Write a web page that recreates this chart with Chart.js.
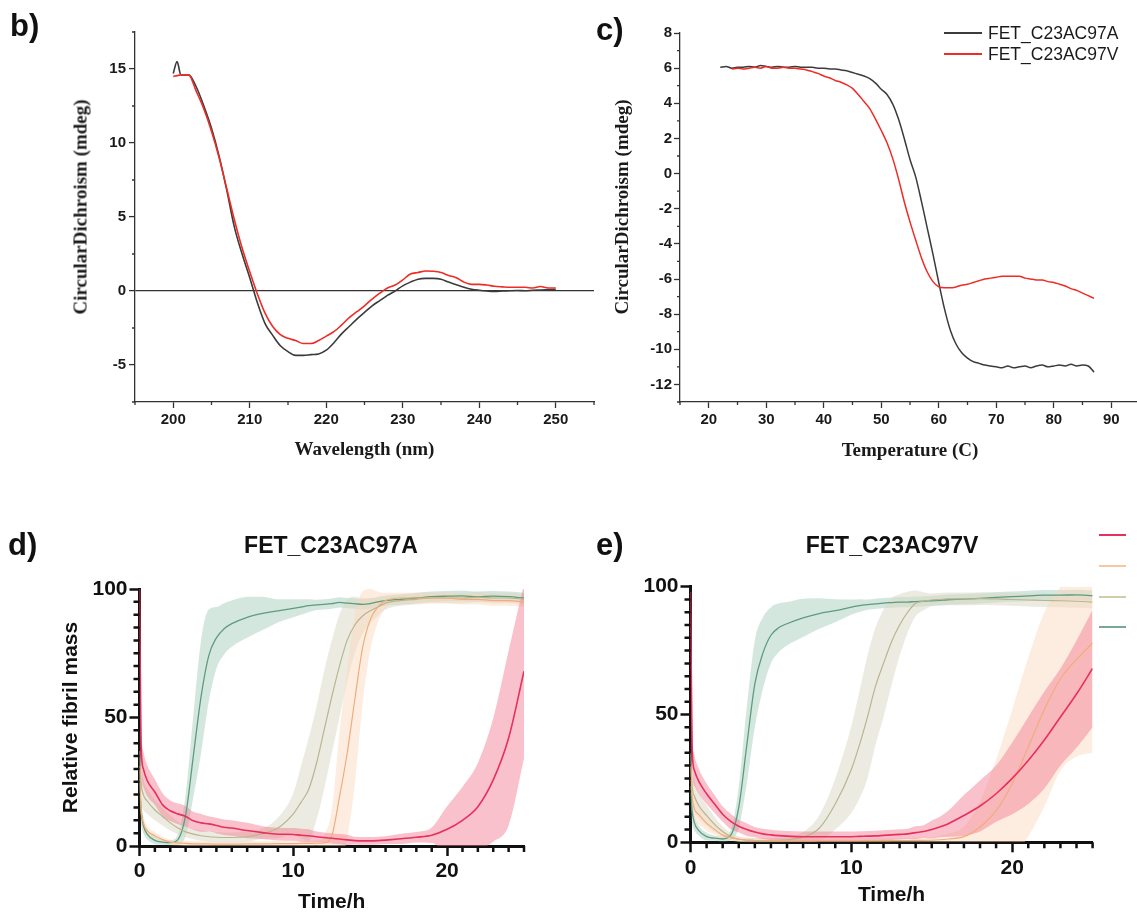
<!DOCTYPE html>
<html>
<head>
<meta charset="utf-8">
<script src="https://cdn.jsdelivr.net/npm/chart.js@4.4.1/dist/chart.umd.min.js"></script>
<style>
  html, body { margin: 0; padding: 0; background: #fff; overflow: hidden; }
  body { width: 1137px; height: 913px; position: relative; font-family: "Liberation Sans", Arial, sans-serif; color: #111; }
  canvas { position: absolute; }
  .tag { position: absolute; font-weight: bold; font-size: 31px; line-height: 1; }
  .ptitle { position: absolute; font-weight: bold; font-size: 23px; line-height: 1; transform: translate(-50%, -50%); white-space: nowrap; }
  .ytitle { position: absolute; font-family: "Liberation Serif", serif; font-weight: bold; font-size: 19px; line-height: 1;
            color: #1a1a1a; white-space: nowrap; transform: translate(-50%, -50%) rotate(-90deg); }
  .legline { position: absolute; height: 2px; }
  .legtext { position: absolute; font-size: 17.5px; line-height: 20px; white-space: nowrap; color: #1a1a1a; }
</style>
</head>
<body>

<canvas id="chartB" width="600" height="470" style="left:0; top:0;"></canvas>
<canvas id="chartC" width="570" height="470" style="left:570px; top:0;"></canvas>
<canvas id="chartD" width="570" height="413" style="left:0; top:500px;"></canvas>
<canvas id="chartE" width="567" height="413" style="left:570px; top:500px;"></canvas>

<div class="tag" style="left:10px; top:10px;">b)</div>
<div class="tag" style="left:596px; top:14px;">c)</div>
<div class="tag" style="left:8px; top:529px;">d)</div>
<div class="tag" style="left:596px; top:529px;">e)</div>

<div class="ytitle" style="left:80px; top:207px;">CircularDichroism (mdeg)</div>
<div class="ytitle" style="left:621px; top:207px;">CircularDichroism (mdeg)</div>

<div class="ptitle" style="left:331px; top:545px;">FET_C23AC97A</div>
<div class="ptitle" style="left:892px; top:545px;">FET_C23AC97V</div>

<!-- Legend of panel c -->
<div class="legline" style="left:944px; top:32px; width:38px; background:#3b3b3b;"></div>
<div class="legtext" style="left:988px; top:23px;">FET_C23AC97A</div>
<div class="legline" style="left:944px; top:53px; width:38px; background:#ee2b25;"></div>
<div class="legtext" style="left:988px; top:44px;">FET_C23AC97V</div>

<!-- Legend of panel e (text is cut off in the figure) -->
<div class="legline" style="left:1099px; top:534px; width:27px; background:#e8305c;"></div>
<div class="legline" style="left:1099px; top:565px; width:27px; background:#f3c9a4;"></div>
<div class="legline" style="left:1099px; top:596px; width:27px; background:#cfcdaa;"></div>
<div class="legline" style="left:1099px; top:626px; width:27px; background:#7aa896;"></div>

<script>
// ---- Panel b: CD spectra ----
const wavelength = [200, 200.5, 201, 202, 203, 204, 205, 206, 207, 208, 209, 210, 211, 212, 213, 214, 215, 216, 217, 218, 219, 220,
  221, 222, 223, 224, 225, 226, 227, 228, 229, 230, 231, 232, 233, 234, 235, 236, 237, 238, 239, 240,
  241, 242, 243, 244, 245, 246, 247, 248, 249, 250];
const spectrumA = [14.7, 15.5, 14.6, 14.6, 13.8, 12.5, 11.0, 9.1, 6.8, 4.3, 2.5, 0.9, -0.8, -2.2, -3.0, -3.7, -4.1, -4.35, -4.35, -4.3, -4.25, -4.0,
  -3.5, -2.9, -2.4, -1.9, -1.45, -1.0, -0.65, -0.3, 0.0, 0.35, 0.6, 0.8, 0.85, 0.85, 0.8, 0.6, 0.42, 0.25, 0.12, 0.05,
  0.0, -0.03, 0.0, 0.02, 0.03, 0.02, 0.05, 0.06, 0.08, 0.1];
const spectrumV = [14.5, 14.55, 14.6, 14.6, 13.5, 12.3, 10.8, 9.0, 6.9, 4.8, 2.9, 1.3, -0.2, -1.5, -2.4, -2.95, -3.2, -3.35, -3.55, -3.55, -3.35, -3.05,
  -2.75, -2.3, -1.8, -1.4, -1.0, -0.55, -0.15, 0.2, 0.4, 0.75, 1.15, 1.25, 1.35, 1.33, 1.25, 1.05, 0.9, 0.6, 0.45, 0.45,
  0.4, 0.32, 0.28, 0.25, 0.25, 0.25, 0.2, 0.3, 0.2, 0.2];
const wavelengthTicks = [200, 210, 220, 230, 240, 250];
const spectrumTicks = [-5, 0, 5, 10, 15];

// ---- Panel c: thermal melt ----
const temperature = [22, 23, 24, 25, 26, 27, 28, 29, 30, 31, 32, 33, 34, 35, 36, 37, 38, 39, 40, 41, 42, 43, 44, 45, 46, 47, 48, 49, 50,
  51, 52, 53, 54, 55, 56, 57, 58, 59, 60, 61, 62, 63, 64, 65, 66, 67, 68, 69, 70, 71, 72, 73, 74, 75, 76, 77, 78, 79, 80,
  81, 82, 83, 84, 85, 86, 87];
const meltA = [6.05, 6.1, 6.0, 6.05, 6.05, 6.1, 6.05, 6.15, 6.1, 6.05, 6.1, 6.05, 6.05, 6.1, 6.05, 6.05, 6.05, 6.0, 6.0, 5.95, 5.95, 5.9, 5.85, 5.75, 5.65, 5.55, 5.4, 5.15, 4.8,
  4.5, 3.95, 3.1, 2.0, 0.8, -0.2, -1.6, -3.1, -4.6, -6.2, -7.7, -8.9, -9.7, -10.2, -10.5, -10.7, -10.8, -10.9, -10.95, -11.0, -11.05, -10.95, -11.05, -11.0, -10.95, -11.05, -10.95, -10.9, -11.0, -10.95,
  -10.9, -10.95, -10.85, -10.95, -10.9, -10.95, -11.3];
const meltV = [null, null, 5.95, 6.0, 5.95, 6.0, 6.05, 6.0, 6.1, 6.0, 6.0, 6.05, 6.0, 6.0, 5.95, 5.9, 5.8, 5.7, 5.55, 5.45, 5.3, 5.2, 5.05, 4.85, 4.5, 4.1, 3.7, 3.1, 2.45,
  1.75, 0.85, -0.3, -1.6, -2.75, -3.8, -4.8, -5.6, -6.15, -6.45, -6.5, -6.5, -6.45, -6.35, -6.3, -6.2, -6.1, -6.0, -5.95, -5.9, -5.85, -5.85, -5.85, -5.85, -5.95, -6.0, -6.05, -6.05, -6.15, -6.2,
  -6.3, -6.4, -6.55, -6.65, -6.8, -6.95, -7.1];
const temperatureTicks = [20, 30, 40, 50, 60, 70, 80, 90];
const meltTicks = [-12, -10, -8, -6, -4, -2, 0, 2, 4, 6, 8];

// ---- Panels d / e: aggregation kinetics (mean and SD) ----
const hours = [0, 0.1, 0.25, 0.5, 1, 1.5, 2, 2.5, 3, 3.5, 4, 4.5, 5, 5.5, 6, 7, 8, 9, 10, 10.5, 11, 11.5, 12, 12.5, 13, 13.5, 14, 14.5, 15, 15.5, 16,
  17, 18, 19, 20, 21, 22, 23, 24, 25];

const tealA = [26, 14, 8, 4.6, 2.2, 1.5, 1.3, 2.5, 12, 35, 58, 74, 81, 84.5, 86.5, 89, 90.5, 91.5, 92.5, 93, 93.5, 93.8, 94, 94.3, 94.8, 94.5, 94.3, 94, 94.3, 95, 95.5,
  96, 96.5, 97, 97.2, 97.3, 97, 97.2, 97, 96.5];
const tealSdA = [8, 5, 3, 2, 1.5, 1, 1, 2, 8, 16, 22, 18, 12, 10, 9, 8, 6.5, 4.5, 3.5, 3, 2.5, 2, 2, 2, 2, 2, 2, 2, 2, 2, 2,
  2, 2, 2, 2, 2, 2, 2, 2, 2];
const khakiA = [37, 25, 20, 17.5, 14, 11.5, 9, 7, 5.5, 4.6, 4, 3.6, 3.4, 3.3, 3.3, 3.6, 4.8, 7, 12.5, 17, 22, 32, 45, 58, 70, 80, 86, 89.5, 91.5, 93, 94.5,
  95.5, 96, 96.5, 96.5, 96.5, 96.8, 96.5, 96.5, 96];
const khakiSdA = [10, 8, 6, 5, 4, 3.5, 3, 2.5, 2, 2, 2, 2, 2, 2, 2, 2, 2, 4, 8, 14, 20, 22, 23, 22, 20, 16, 11, 7, 5, 3.5, 2.5,
  2, 2, 2, 2, 2, 2, 2, 2, 2];
const peachA = [31, 15, 9, 6, 4, 2.5, 1.5, 1.2, 1, 0.8, 0.8, 0.8, 0.7, 0.7, 0.7, 0.8, 0.8, 0.9, 0.9, 1, 1, 1.1, 1.2, 4, 19, 36, 57, 77, 88, 93, 95.5,
  96.5, 96.5, 96.5, 96.5, 96, 96, 95.5, 95.5, 95];
const peachSdA = [6, 4, 3, 2, 1.5, 1, 1, 1, 1, 1, 1, 1, 1, 1, 1, 1, 1, 1, 1, 1, 1, 1, 3, 10, 25, 33, 33, 22, 12, 6, 3,
  2, 2, 2, 2, 2, 2, 2, 2, 2];
const redA = [100, 40, 30, 25.5, 21, 16, 13.7, 12.5, 11.5, 9.8, 9, 8.6, 8, 7.3, 7, 6, 5.2, 4.6, 4.5, 4.2, 4, 3.6, 3.3, 3, 2.7, 2.4, 2.1, 2, 2, 2.1, 2.3,
  2.8, 3.4, 4.2, 6.5, 10, 15.3, 25.7, 42, 68];
const redSdA = [0, 8, 7, 6, 5, 4.5, 4, 4, 4, 3.5, 3.5, 3, 3, 3, 3, 3, 2.5, 2.5, 2.5, 2.5, 2.5, 2, 2, 2, 2, 2, 1.5, 1.5, 1.5, 1.5, 1.5,
  2, 2, 3, 9, 13, 17, 24, 34, 34];

const tealV = [22, 12.4, 7.5, 4.7, 2.2, 1.6, 1.3, 2.8, 13.7, 38, 62, 74, 81, 84, 85.5, 87.8, 89.5, 90.6, 92, 92.6, 93, 93.3, 93.6, 93.8, 94, 94, 94.2, 94.3, 94.5, 94.7, 94.9,
  95.1, 95.4, 95.8, 96.1, 96.4, 96.7, 96.7, 96.8, 96.5];
const tealSdV = [6, 5, 3, 2, 1.5, 1, 1, 2, 8, 15, 17, 14, 11, 9.5, 8.5, 7.5, 6, 4.5, 3, 2.5, 2, 2, 2, 2, 2, 2, 2, 2, 2, 2, 2,
  2, 2, 2, 2, 2, 2, 2, 2, 2];
const khakiV = [35, 22, 18, 14.5, 10.5, 7, 4.2, 2.2, 1.2, 0.8, 0.7, 0.65, 0.7, 0.8, 1, 2, 5.5, 15, 28.5, 38, 49, 61, 70, 78.5, 85, 90, 93.5, 94.3, 94.8, 95, 95.2,
  95.2, 95.3, 95.2, 95, 94.8, 94.6, 94.5, 94.3, 94];
const khakiSdV = [8, 7, 6, 5, 4, 3, 2, 1.5, 1, 1, 1, 1, 1, 1, 1, 2, 5, 10, 17, 21, 24, 23, 21, 17, 12, 8, 5, 3.5, 2.5, 2.5, 2.5,
  2.5, 2.5, 2.5, 2.5, 2.5, 2.5, 2.5, 2.5, 2.5];
const peachV = [30, 18, 13, 11, 7.5, 5, 2.8, 1.8, 1.2, 0.9, 0.7, 0.7, 0.65, 0.65, 0.6, 0.6, 0.6, 0.6, 0.6, 0.6, 0.65, 0.65, 0.65, 0.7, 0.7, 0.7, 0.75, 0.75, 0.8, 1, 1.3,
  2.2, 6, 12.4, 22.9, 37.3, 52, 64, 71.5, 78];
const peachSdV = [7, 6, 5, 4, 3, 2, 1.5, 1, 1, 1, 1, 1, 1, 1, 1, 1, 1, 1, 1, 1, 1, 1, 1, 1, 1, 1, 1, 1, 1, 1.5, 2,
  4, 10, 20, 29, 35, 38, 36, 38, 43];
const redV = [98, 37, 28, 24, 19, 15, 11, 8.2, 6.3, 5, 4, 3.3, 2.9, 2.6, 2.4, 2.2, 2.2, 2.2, 2.2, 2.3, 2.4, 2.5, 2.7, 2.9, 3.1, 3.3, 3.8, 4.2, 5, 6, 7.2,
  10.5, 14.2, 19, 25, 32, 40, 49, 58, 68];
const redSdV = [2, 8, 6, 5, 4, 3.5, 3, 3, 2.5, 2.5, 2, 2, 2, 2, 2, 2, 2, 2, 2, 2, 2, 2, 2, 2, 2, 2, 2.5, 2.5, 3.5, 4, 5,
  8, 10, 11, 14, 17, 19, 19, 21, 23];

const hourTicks = [0, 10, 20];
const massTicks = [0, 50, 100];

// Colours of the four kinetic series: [line, band]
const RED   = ['#e8305c', 'rgba(242, 118, 140, 0.45)'];
const PEACH = ['#f0ad7c', 'rgba(250, 214, 186, 0.45)'];
const KHAKI = ['#b9b58f', 'rgba(218, 216, 196, 0.5)'];
const TEAL  = ['#5e9b80', 'rgba(160, 202, 182, 0.45)'];

Chart.defaults.font.family = 'Liberation Sans';

/**
 * Draws the short unlabelled ticks between the labelled ones
 */
const minorTicks = {
  id: 'minorTicks',
  afterDraw(chart, args, opts) {
    const ctx = chart.ctx;
    const xs = chart.scales.x;
    const ys = chart.scales.y;
    ctx.save();
    ctx.strokeStyle = opts.color;
    ctx.lineWidth = opts.width;
    ctx.beginPath();
    (opts.x || []).forEach(v => {
      const p = xs.getPixelForValue(v);
      ctx.moveTo(p, xs.top);
      ctx.lineTo(p, xs.top + opts.len);
    });
    (opts.y || []).forEach(v => {
      const p = ys.getPixelForValue(v);
      ctx.moveTo(ys.right, p);
      ctx.lineTo(ys.right - opts.len, p);
    });
    ctx.stroke();
    ctx.restore();
  }
};

// Values from..to every step, leaving out the labelled ones
function steps(from, to, step, skip) {
  const out = [];
  for (let v = from; v <= to + 1e-9; v += step) {
    const r = Math.round(v * 100) / 100;
    if (!skip.includes(r)) out.push(r);
  }
  return out;
}

function pairs(xs, ys) {
  return xs.map((x, i) => ({ x: x, y: ys[i] })).filter(p => p.y !== null);
}

function fixedTicks(values) {
  return scale => { scale.ticks = values.map(v => ({ value: v })); };
}

// ---- Panel b ----
new Chart(document.getElementById('chartB'), {
  type: 'line',
  data: {
    datasets: [
      { label: 'FET_C23AC97V', data: pairs(wavelength, spectrumV), borderColor: '#ee2b25', borderWidth: 1.6 },
      { label: 'FET_C23AC97A', data: pairs(wavelength, spectrumA), borderColor: '#3b3b3b', borderWidth: 1.6 }
    ]
  },
  plugins: [minorTicks],
  options: {
    responsive: false,
    animation: false,
    devicePixelRatio: 1,
    layout: { padding: { top: 32, right: 6, left: 0, bottom: 0 } },
    elements: { point: { radius: 0 }, line: { cubicInterpolationMode: 'monotone' } },
    plugins: {
      legend: { display: false },
      tooltip: { enabled: false },
      minorTicks: {
        color: '#333', width: 1.3, len: 3,
        x: steps(195, 255, 5, wavelengthTicks),
        y: steps(-7.5, 17.5, 2.5, spectrumTicks)
      }
    },
    scales: {
      x: {
        type: 'linear', min: 195, max: 255,
        afterBuildTicks: fixedTicks(wavelengthTicks),
        afterFit: s => { s.height = 68; },
        grid: { drawOnChartArea: false, tickLength: 6, tickColor: '#333', tickWidth: 1.3 },
        border: { color: '#333', width: 1.3 },
        ticks: { autoSkip: false, maxRotation: 0, padding: 3, color: '#1a1a1a', font: { size: 15, weight: 'bold' } },
        title: { display: true, text: 'Wavelength (nm)', color: '#1a1a1a', padding: { top: 0, bottom: 9 },
                 font: { family: 'Liberation Serif', size: 19, weight: 'bold' } }
      },
      y: {
        type: 'linear', min: -7.5, max: 17.5,
        afterBuildTicks: fixedTicks(spectrumTicks),
        afterFit: s => { s.width = 135; },
        grid: {
          drawOnChartArea: true,
          color: c => (c.tick && c.tick.value === 0) ? '#333' : 'rgba(0,0,0,0)',
          lineWidth: 1.2,
          tickLength: 6, tickColor: '#333', tickWidth: 1.3
        },
        border: { color: '#333', width: 1.3 },
        ticks: { autoSkip: false, padding: 3, color: '#1a1a1a', font: { size: 15, weight: 'bold' } }
      }
    }
  }
});

// ---- Panel c ----
new Chart(document.getElementById('chartC'), {
  type: 'line',
  data: {
    datasets: [
      { label: 'FET_C23AC97V', data: pairs(temperature, meltV), borderColor: '#ee2b25', borderWidth: 1.5 },
      { label: 'FET_C23AC97A', data: pairs(temperature, meltA), borderColor: '#3b3b3b', borderWidth: 1.5 }
    ]
  },
  plugins: [minorTicks],
  options: {
    responsive: false,
    animation: false,
    devicePixelRatio: 1,
    layout: { padding: { top: 33, right: 0, left: 0, bottom: 0 } },
    elements: { point: { radius: 0 }, line: { cubicInterpolationMode: 'monotone' } },
    plugins: {
      legend: { display: false },
      tooltip: { enabled: false },
      minorTicks: {
        color: '#333', width: 1.3, len: 3,
        x: steps(15, 95, 5, temperatureTicks),
        y: steps(-13, 8, 1, meltTicks)
      }
    },
    scales: {
      x: {
        type: 'linear', min: 15, max: 95,
        afterBuildTicks: fixedTicks(temperatureTicks),
        afterFit: s => { s.height = 68; },
        grid: { drawOnChartArea: false, tickLength: 6, tickColor: '#333', tickWidth: 1.3 },
        border: { color: '#333', width: 1.3 },
        ticks: { autoSkip: false, maxRotation: 0, padding: 3, color: '#1a1a1a', font: { size: 15, weight: 'bold' } },
        title: { display: true, text: 'Temperature (C)', color: '#1a1a1a', padding: { top: 0, bottom: 8 },
                 font: { family: 'Liberation Serif', size: 19, weight: 'bold' } }
      },
      y: {
        type: 'linear', min: -13, max: 8,
        afterBuildTicks: fixedTicks(meltTicks),
        afterFit: s => { s.width = 110; },
        grid: { drawOnChartArea: false, tickLength: 6, tickColor: '#333', tickWidth: 1.3 },
        border: { color: '#333', width: 1.3 },
        ticks: { autoSkip: false, padding: 2, color: '#1a1a1a', font: { size: 15, weight: 'bold' } }
      }
    }
  }
});

/**
 * Datasets for one kinetic panel: mean lines on top, mean +/- SD bands below
 */
function kineticSets(series) {
  const lines = [];
  const bands = [];
  series.forEach((s, k) => {
    lines.push({
      label: s.name, data: pairs(hours, s.mean),
      borderColor: s.color[0], borderWidth: s.width, order: k, fill: false
    });
  });
  series.forEach((s, k) => {
    bands.push({
      label: s.name + ' +SD', data: pairs(hours, s.mean.map((m, i) => m + s.sd[i])),
      borderWidth: 0, borderColor: 'rgba(0,0,0,0)', backgroundColor: s.color[1],
      fill: '+1', order: series.length + k
    });
    bands.push({
      label: s.name + ' -SD', data: pairs(hours, s.mean.map((m, i) => m - s.sd[i])),
      borderWidth: 0, borderColor: 'rgba(0,0,0,0)', fill: false, order: series.length + k
    });
  });
  return lines.concat(bands);
}

function kineticOptions(padTop, padRight, yWidth, xHeight, yTitle, xTitlePad) {
  return {
    responsive: false,
    animation: false,
    devicePixelRatio: 1,
    layout: { padding: { top: padTop, right: padRight, left: 0, bottom: 0 } },
    elements: { point: { radius: 0 }, line: { cubicInterpolationMode: 'monotone' } },
    plugins: {
      legend: { display: false },
      tooltip: { enabled: false },
      filler: { propagate: false },
      minorTicks: {
        color: '#111', width: 2.5, len: 6,
        x: steps(0, 25, 1, hourTicks),
        y: steps(0, 100, 5, massTicks)
      }
    },
    scales: {
      x: {
        type: 'linear', min: 0, max: 25,
        afterBuildTicks: fixedTicks(hourTicks),
        afterFit: s => { s.height = xHeight; },
        grid: { drawOnChartArea: false, tickLength: 10, tickColor: '#111', tickWidth: 2.5 },
        border: { color: '#111', width: 3 },
        ticks: { autoSkip: false, maxRotation: 0, padding: 3, color: '#111', font: { size: 21, weight: 'bold' } },
        title: { display: true, text: 'Time/h', color: '#111', padding: { top: 0, bottom: xTitlePad },
                 font: { size: 21, weight: 'bold', lineHeight: 1 } }
      },
      y: {
        type: 'linear', min: 0, max: 100,
        afterBuildTicks: fixedTicks(massTicks),
        afterFit: s => { s.width = yWidth; },
        grid: { drawOnChartArea: false, tickLength: 10, tickColor: '#111', tickWidth: 2.5 },
        border: { color: '#111', width: 3 },
        ticks: { autoSkip: false, padding: 2, color: '#111', font: { size: 21, weight: 'bold' } },
        title: { display: yTitle !== '', text: yTitle, color: '#111', padding: { top: 59, bottom: 0 },
                 font: { size: 21, weight: 'bold' } }
      }
    }
  };
}

// ---- Panel d ----
new Chart(document.getElementById('chartD'), {
  type: 'line',
  data: {
    datasets: kineticSets([
      { name: 'red',   mean: redA,   sd: redSdA,   color: RED,   width: 1.6 },
      { name: 'peach', mean: peachA, sd: peachSdA, color: PEACH, width: 1.2 },
      { name: 'khaki', mean: khakiA, sd: khakiSdA, color: KHAKI, width: 1.2 },
      { name: 'teal',  mean: tealA,  sd: tealSdA,  color: TEAL,  width: 1.3 }
    ])
  },
  plugins: [minorTicks],
  options: kineticOptions(89, 46, 139.5, 67, 'Relative fibril mass', 0)
});

// ---- Panel e ----
new Chart(document.getElementById('chartE'), {
  type: 'line',
  data: {
    datasets: kineticSets([
      { name: 'red',   mean: redV,   sd: redSdV,   color: RED,   width: 1.6 },
      { name: 'peach', mean: peachV, sd: peachSdV, color: PEACH, width: 1.2 },
      { name: 'khaki', mean: khakiV, sd: khakiSdV, color: KHAKI, width: 1.2 },
      { name: 'teal',  mean: tealV,  sd: tealSdV,  color: TEAL,  width: 1.3 }
    ])
  },
  plugins: [minorTicks],
  options: kineticOptions(86.7, 44.4, 120.5, 70.7, '', 7.5)
});
</script>
</body>
</html>
